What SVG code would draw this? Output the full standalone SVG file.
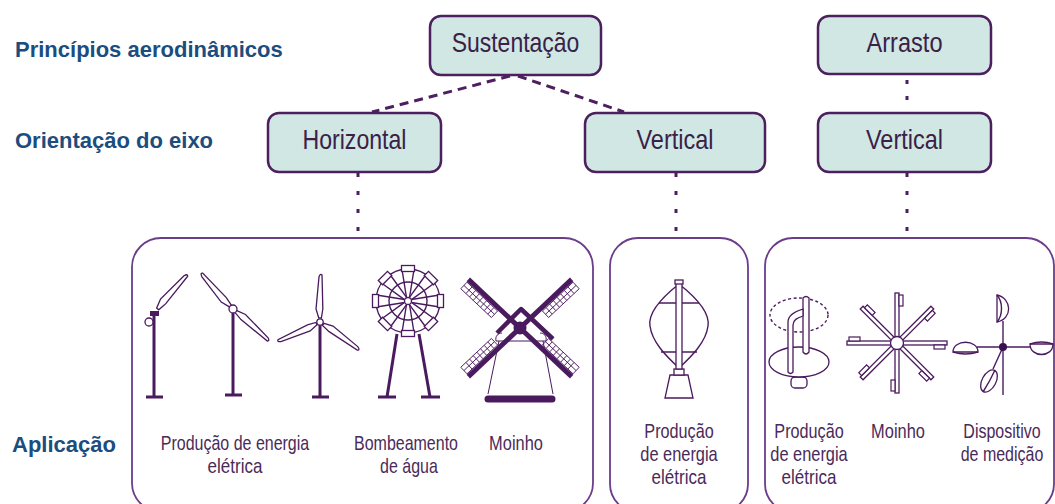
<svg xmlns="http://www.w3.org/2000/svg" xmlns:xlink="http://www.w3.org/1999/xlink" width="1055" height="504" viewBox="0 0 1055 504">
<defs>
<style>
.hdr{font-family:"Liberation Sans",Arial,sans-serif;font-weight:bold;font-size:22px;fill:#1b4d7e}
.node rect{fill:#d0e7e4;stroke:#4d1f5f;stroke-width:2.5}
.ntxt{font-family:"Liberation Sans",Arial,sans-serif;font-size:28.5px;fill:#3a2148;text-anchor:middle}
.lbl{font-family:"Liberation Sans",Arial,sans-serif;font-size:20.5px;fill:#4a2a5a;text-anchor:middle}
.panel{fill:none;stroke:#6b3c8a;stroke-width:1.8}
.conn{stroke:#4d1f5f;stroke-width:3;fill:none}
.ic{stroke:#4a1a5e;fill:#fff;stroke-width:1.3}
.ln{stroke:#4a1a5e;fill:none;stroke-width:1.4}
.thick{stroke:#4a1a5e;stroke-width:3;fill:none}
</style>
<path id="blade" class="ic" d="M4,-1.3 L13,-4.2 L45,-1.8 Q49,-0.6 47,1.2 L13,2.6 L4,1.3 Z"/>
<g id="pb"><path class="ln" d="M-1.5,-3.5 L-6,-31.5 M1.5,-3.5 L6,-31.5"/><rect class="ic" x="-6.5" y="-35.5" width="13" height="6" stroke-width="1.4"/></g>
<g id="sail"><line x1="0" y1="0" x2="71" y2="0" stroke="#4a1a5e" stroke-width="5"/><g fill="none" stroke="#4a1a5e" stroke-width="0.9"><rect x="28" y="3" width="42" height="9"/><line x1="28" y1="7.5" x2="70" y2="7.5"/><path d="M33,3v9M38,3v9M43,3v9M48,3v9M53,3v9M58,3v9M63,3v9"/></g></g>
<g id="arm"><rect x="6" y="-2" width="44" height="4" fill="#fff" stroke="#4a1a5e" stroke-width="1.3"/><rect x="37" y="2" width="11" height="4" fill="#fff" stroke="#4a1a5e" stroke-width="1.2"/></g>
</defs>
<rect width="1055" height="504" fill="#fff"/>

<g id="row-labels">
<text class="hdr" x="15" y="57">Princípios aerodinâmicos</text>
<text class="hdr" x="15" y="148">Orientação do eixo</text>
<text class="hdr" x="12" y="452">Aplicação</text>
</g>

<g id="connectors">
<line class="conn" x1="510" y1="76" x2="372" y2="112" stroke-dasharray="9 6"/>
<line class="conn" x1="518" y1="76" x2="624" y2="112" stroke-dasharray="9 6"/>
<line class="conn" x1="358" y1="173" x2="358" y2="231" stroke-dasharray="4 14"/>
<line class="conn" x1="676" y1="173" x2="676" y2="231" stroke-dasharray="4 14"/>
<line class="conn" x1="907" y1="80" x2="907" y2="100" stroke-dasharray="4 12"/>
<line class="conn" x1="907" y1="173" x2="907" y2="231" stroke-dasharray="4 14"/>
</g>

<g id="n-sustentacao" class="node"><rect x="430" y="16" width="171" height="59" rx="11"/><text class="ntxt" x="515.5" y="52" textLength="127.6" lengthAdjust="spacingAndGlyphs">Sustentação</text></g>
<g id="n-arrasto" class="node"><rect x="818" y="16" width="173" height="58" rx="11"/><text class="ntxt" x="904.5" y="52" textLength="76" lengthAdjust="spacingAndGlyphs">Arrasto</text></g>
<g id="n-horizontal" class="node"><rect x="268" y="113" width="173" height="59" rx="11"/><text class="ntxt" x="354.5" y="149" textLength="104" lengthAdjust="spacingAndGlyphs">Horizontal</text></g>
<g id="n-vertical-1" class="node"><rect x="585" y="113" width="180" height="59" rx="11"/><text class="ntxt" x="675" y="149" textLength="77" lengthAdjust="spacingAndGlyphs">Vertical</text></g>
<g id="n-vertical-2" class="node"><rect x="818" y="113" width="173" height="59" rx="11"/><text class="ntxt" x="904.5" y="149" textLength="77" lengthAdjust="spacingAndGlyphs">Vertical</text></g>

<g id="panel-horizontal">
<rect class="panel" x="132" y="238" width="461" height="274" rx="29"/>
<g id="turbine-1">
<line class="thick" x1="154" y1="313" x2="154" y2="397"/>
<line class="thick" x1="146" y1="397" x2="163" y2="397"/>
<use xlink:href="#blade" transform="translate(155,312) rotate(-49) scale(1.03)"/>
<rect x="150" y="311" width="9" height="5" fill="#4a1a5e"/>
<circle class="ic" cx="149" cy="322" r="4" stroke-width="1.5"/>
</g>
<g id="turbine-2">
<line class="thick" x1="233" y1="313" x2="233" y2="395"/>
<line class="thick" x1="225" y1="395" x2="242" y2="395"/>
<use xlink:href="#blade" transform="translate(233,309) rotate(-131.6)"/>
<use xlink:href="#blade" transform="translate(233,309) rotate(41.6)"/>
<circle class="ic" cx="233" cy="309" r="4" stroke-width="1.5"/>
</g>
<g id="turbine-3">
<line class="thick" x1="320" y1="325" x2="320" y2="397"/>
<line class="thick" x1="312" y1="397" x2="329" y2="397"/>
<use xlink:href="#blade" transform="translate(320,322) rotate(-89)"/>
<use xlink:href="#blade" transform="translate(320,322) rotate(155.7) scale(0.97)"/>
<use xlink:href="#blade" transform="translate(320,322) rotate(35.4)"/>
<circle class="ic" cx="320" cy="322" r="3.2" stroke-width="1.4"/>
</g>
<g id="water-pump">
<line class="thick" x1="397" y1="334" x2="387" y2="397"/>
<line class="thick" x1="419" y1="334" x2="430" y2="397"/>
<line class="thick" x1="378" y1="397" x2="396" y2="397"/>
<line class="thick" x1="421" y1="397" x2="440" y2="397"/>
<g transform="translate(408,301)">
<circle class="ic" r="32" stroke-width="1.6"/>
<circle class="ln" r="19" stroke-width="1.5"/>
<use xlink:href="#pb"/>
<use xlink:href="#pb" transform="rotate(45)"/>
<use xlink:href="#pb" transform="rotate(90)"/>
<use xlink:href="#pb" transform="rotate(135)"/>
<use xlink:href="#pb" transform="rotate(180)"/>
<use xlink:href="#pb" transform="rotate(225)"/>
<use xlink:href="#pb" transform="rotate(270)"/>
<use xlink:href="#pb" transform="rotate(315)"/>
<circle class="ic" r="3.5" stroke-width="1.4"/>
</g>
</g>
<g id="windmill">
<path d="M499,341 L488,394 M543,341 L553,394" stroke="#4a1a5e" stroke-width="1" fill="none"/>
<path d="M496,341 C495,336 498,333 502,333 M546,341 C547,336 544,333 540,333 M496,341 L546,341" stroke="#4a1a5e" stroke-width="1" fill="none"/>
<line x1="488" y1="399" x2="552" y2="399" stroke="#4a1a5e" stroke-width="7" stroke-linecap="round"/>
<polyline points="497,333 521,309 553,339" fill="none" stroke="#4a1a5e" stroke-width="4.5" stroke-linejoin="round"/>
<use xlink:href="#sail" transform="translate(520,328) rotate(-43.3)"/>
<use xlink:href="#sail" transform="translate(520,328) rotate(136.7)"/>
<use xlink:href="#sail" transform="translate(520,328) rotate(-136.7) scale(1,-1)"/>
<use xlink:href="#sail" transform="translate(520,328) rotate(43.3) scale(1,-1)"/>
<circle cx="520" cy="328" r="6.5" fill="#4a1a5e"/>
</g>
<text class="lbl" transform="translate(235,450) scale(0.78,1)">Produção de energia</text>
<text class="lbl" transform="translate(235,473) scale(0.83,1)">elétrica</text>
<text class="lbl" transform="translate(406,450) scale(0.78,1)">Bombeamento</text>
<text class="lbl" transform="translate(409,473) scale(0.78,1)">de água</text>
<text class="lbl" transform="translate(516,450) scale(0.8,1)">Moinho</text>
</g>

<g id="panel-vertical-lift">
<rect class="panel" x="610" y="238" width="138" height="274" rx="28"/>
<g id="darrieus">
<polygon class="ic" points="670,375 688,375 693,398 665,398" stroke-width="1.5"/>
<rect class="ic" x="674" y="369" width="10" height="6"/>
<path class="ln" stroke-width="1.8" d="M679,284 C660,299 648,314 650,326 C652,342 666,356 679,368 M679,284 C698,299 710,314 708,326 C706,342 692,356 679,368"/>
<line class="ln" x1="659" y1="303" x2="699" y2="303" stroke-width="1.2"/>
<line class="ln" x1="661" y1="352" x2="697" y2="352" stroke-width="1.2"/>
<rect class="ic" x="676" y="283" width="6" height="86" stroke-width="1.1"/>
<rect class="ic" x="675" y="280" width="8" height="4" stroke-width="1.1"/>
</g>
<text class="lbl" transform="translate(679,438) scale(0.79,1)">Produção</text>
<text class="lbl" transform="translate(679,461) scale(0.8,1)">de energia</text>
<text class="lbl" transform="translate(679,484) scale(0.83,1)">elétrica</text>
</g>

<g id="panel-vertical-drag">
<rect class="panel" x="765" y="238" width="289" height="274" rx="28"/>
<g id="savonius">
<ellipse class="ln" cx="799" cy="315" rx="29" ry="17" stroke-width="1.2" stroke-dasharray="3 2.5"/>
<rect class="ic" x="791" y="377" width="16" height="11" rx="4"/>
<ellipse class="ic" cx="799" cy="362" rx="30" ry="15" stroke-width="1.5"/>
<path class="ic" d="M803,298 Q806,295 809,298 L809,352 Q806,356 803,352 Z"/>
<path class="ic" d="M788,372 L788,322 C788,315 796,311 803,309 L803,316 C797,318 793,320 793,325 L793,372 Q790.5,375 788,372 Z"/>
</g>
<g id="multiblade">
<g transform="translate(897,343)">
<use xlink:href="#arm"/>
<use xlink:href="#arm" transform="rotate(45)"/>
<use xlink:href="#arm" transform="rotate(90)"/>
<use xlink:href="#arm" transform="rotate(135)"/>
<use xlink:href="#arm" transform="rotate(180)"/>
<use xlink:href="#arm" transform="rotate(225)"/>
<use xlink:href="#arm" transform="rotate(270)"/>
<use xlink:href="#arm" transform="rotate(315)"/>
<circle class="ic" r="6.5" stroke-width="1.4"/>
</g>
</g>
<g id="anemometer">
<line class="ln" x1="1003" y1="321" x2="1003" y2="395"/>
<line class="ln" x1="977" y1="347" x2="1031" y2="347"/>
<line class="ln" x1="1003" y1="347" x2="993" y2="369"/>
<path class="ic" d="M997,295 C1012,298 1013,319 997,322 Z"/>
<path class="ln" stroke-width="1" d="M997,295 C1003,302 1003,315 997,322"/>
<path class="ic" d="M953,352 C953,339 978,339 978,352 Z"/>
<path class="ln" stroke-width="1" d="M953,352 Q965.5,356 978,352"/>
<path class="ic" d="M1030,344 C1030,358 1053,358 1053,344 Z"/>
<path class="ln" stroke-width="1" d="M1030,344 Q1041.5,340 1053,344"/>
<ellipse class="ic" cx="989" cy="381" rx="7" ry="12" transform="rotate(28 989 381)"/>
<path class="ln" stroke-width="1" d="M995,370 Q990,381 983,392"/>
<circle cx="1003" cy="347" r="4" fill="#3a1050"/>
</g>
<text class="lbl" transform="translate(809,438) scale(0.79,1)">Produção</text>
<text class="lbl" transform="translate(809,461) scale(0.8,1)">de energia</text>
<text class="lbl" transform="translate(809,484) scale(0.83,1)">elétrica</text>
<text class="lbl" transform="translate(898,438) scale(0.8,1)">Moinho</text>
<text class="lbl" transform="translate(1002,438) scale(0.78,1)">Dispositivo</text>
<text class="lbl" transform="translate(1002,461) scale(0.78,1)">de medição</text>
</g>
</svg>
